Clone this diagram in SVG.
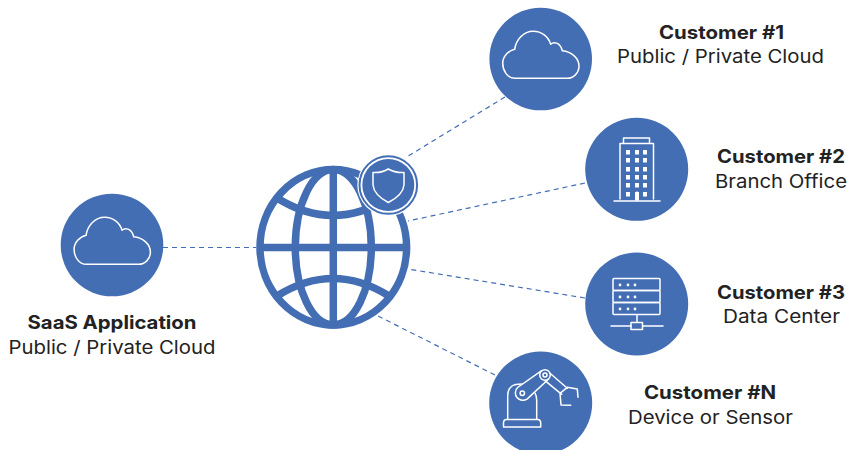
<svg xmlns="http://www.w3.org/2000/svg" width="849" height="450" viewBox="0 0 849 450">
<style>
.disc{fill:#436eb4}
.ico{fill:none;stroke:#fff;stroke-width:1.5;stroke-linejoin:round;stroke-linecap:round}
.dash{fill:none;stroke:#436eb4;stroke-width:1.2;stroke-dasharray:5 4}
.g{fill:none;stroke:#436eb4;stroke-width:7.5}
text{font-family:"Inter","Open Sans","Liberation Sans",sans-serif;font-size:18.5px;fill:#222;text-anchor:middle}
.b{font-weight:700}
.w{fill:#fff}
</style>
<defs>
<path id="cloud" d="M35 78.300C27 78.300 22.700 70 22.700 63.300C22.700 56.700 28.300 50.700 34.700 49.300C36 40 43.300 31.300 53.300 31.300C61.700 31.300 68.300 36.700 70.700 44.300C73.300 41.700 80 41.700 82.300 50.700C91.700 51.700 99 58.300 99 66C99 73.300 93.300 78.300 87.300 78.300Z"/>
</defs>
<rect width="849" height="450" fill="#fff"/>
<g id="connectors">
<path class="dash" d="M163 247.500H256"/>
<path class="dash" d="M505 97L405 158"/>
<path class="dash" d="M585 183L408 221"/>
<path class="dash" d="M585 298L408 269"/>
<path class="dash" d="M495 375L378 316"/>
</g>
<g id="globe">
<ellipse class="g" cx="333.300" cy="247.300" rx="73.300" ry="77.700"/>
<ellipse class="g" cx="333.300" cy="247.300" rx="38" ry="77.700"/>
<path class="g" d="M333.300 170V325M260 247.500H407"/>
<path class="g" d="M277 198Q333 233 389 198M277 296Q333 261 389 296"/>
</g>
<g id="shield">
<circle cx="388.300" cy="185" r="31" fill="#fff"/>
<circle cx="388.300" cy="185" r="28.800" fill="none" stroke="#436eb4" stroke-width="2"/>
<circle class="disc" cx="388.300" cy="185" r="26"/>
<path class="ico" d="M373 172.500Q382 173 388.300 169Q395 173 404 172.500V185Q403 195 388.300 202.500Q374 195 373 185Z"/>
</g>
<g id="saas">
<circle class="disc" cx="112" cy="245" r="51.300"/>
<use href="#cloud" class="ico" transform="translate(51.400 186)"/>
<text class="b" x="112" y="329" textLength="169" lengthAdjust="spacingAndGlyphs">SaaS Application</text>
<text x="112" y="354" textLength="207" lengthAdjust="spacingAndGlyphs">Public / Private Cloud</text>
</g>
<g id="customer1">
<circle class="disc" cx="540.700" cy="59" r="51.300"/>
<use href="#cloud" class="ico" transform="translate(480 0)"/>
<text class="b" x="721.500" y="39" textLength="125" lengthAdjust="spacingAndGlyphs">Customer #1</text>
<text x="720.500" y="63" textLength="207" lengthAdjust="spacingAndGlyphs">Public / Private Cloud</text>
</g>
<g id="customer2">
<circle class="disc" cx="636.700" cy="169.300" r="51.500"/>
<path class="ico" d="M620 199V143.500H653.500V199M623.500 143.500V138H649.500V143.500M614 201H660M637 199V192"/>
<g class="w">
<rect x="626" y="150" width="4" height="4.500"/><rect x="635" y="150" width="4" height="4.500"/><rect x="643" y="150" width="4" height="4.500"/>
<rect x="626" y="158" width="4" height="4.500"/><rect x="635" y="158" width="4" height="4.500"/><rect x="643" y="158" width="4" height="4.500"/>
<rect x="626" y="167" width="4" height="4.500"/><rect x="635" y="167" width="4" height="4.500"/><rect x="643" y="167" width="4" height="4.500"/>
<rect x="626" y="175" width="4" height="4.500"/><rect x="635" y="175" width="4" height="4.500"/><rect x="643" y="175" width="4" height="4.500"/>
<rect x="626" y="183" width="4" height="4.500"/><rect x="635" y="183" width="4" height="4.500"/><rect x="643" y="183" width="4" height="4.500"/>
<rect x="626" y="192" width="4" height="4.500"/><rect x="635" y="192" width="4" height="8.500"/><rect x="643" y="192" width="4" height="4.500"/>
</g>
<text class="b" x="781" y="163" textLength="128" lengthAdjust="spacingAndGlyphs">Customer #2</text>
<text x="781" y="188" textLength="132" lengthAdjust="spacingAndGlyphs">Branch Office</text>
</g>
<g id="customer3">
<circle class="disc" cx="636.700" cy="304" r="51.500"/>
<rect class="ico" x="613" y="278.500" width="47" height="12" rx="1"/>
<rect class="ico" x="613" y="290.500" width="47" height="12" rx="1"/>
<rect class="ico" x="613" y="302.500" width="47" height="12" rx="1"/>
<g class="w">
<circle cx="620" cy="285" r="1.400"/><circle cx="628" cy="285" r="1.400"/><circle cx="635" cy="285" r="1.400"/>
<circle cx="620" cy="297" r="1.400"/><circle cx="628" cy="297" r="1.400"/><circle cx="635" cy="297" r="1.400"/>
<circle cx="620" cy="309" r="1.400"/><circle cx="628" cy="309" r="1.400"/><circle cx="635" cy="309" r="1.400"/>
</g>
<path class="ico" d="M637 315V322M611 326H631M643 326H663"/>
<rect class="ico" x="631" y="322.500" width="11.500" height="7"/>
<text class="b" x="781" y="299" textLength="128" lengthAdjust="spacingAndGlyphs">Customer #3</text>
<text x="781.500" y="323" textLength="117" lengthAdjust="spacingAndGlyphs">Data Center</text>
</g>
<g id="customerN">
<circle class="disc" cx="540.700" cy="403" r="51.500"/>
<path class="ico" d="M503.500 427V423Q503.500 419.500 506.500 419.500H537.500Q540.700 419.500 540.700 423V427ZM507.700 419.500V396Q507.700 389 512 386Q515 384 521.500 384M536.700 419.500V400Q536.700 396 535 393"/>
<path class="ico" d="M541.600 370.700L517.600 387.500A7.500 7.500 0 0 0 527 399.100L548.400 379.300"/>
<circle class="disc" cx="545" cy="375" r="5.300"/>
<circle class="ico" cx="545" cy="375" r="5.300"/>
<circle class="ico" cx="522.300" cy="393.300" r="2.200"/>
<circle class="ico" cx="545" cy="375" r="2"/>
<path class="ico" d="M550 373.300L567.300 388.300M545 380.700L561.700 394.300M560 393.300L567.300 387.300L577.300 389L578 397.300M560 393.300L561 405L570.700 405.300"/>
<text class="b" x="710" y="399" textLength="132" lengthAdjust="spacingAndGlyphs">Customer #N</text>
<text x="710.500" y="424" textLength="165" lengthAdjust="spacingAndGlyphs">Device or Sensor</text>
</g>
</svg>
